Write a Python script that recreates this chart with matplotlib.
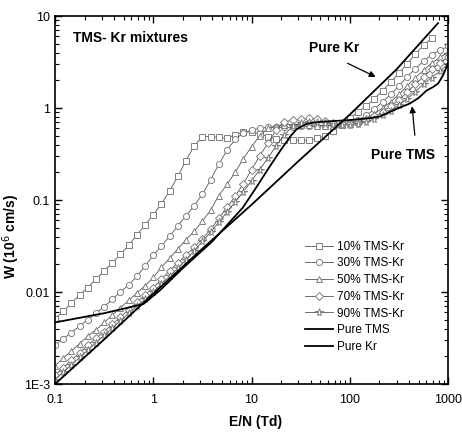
import matplotlib
matplotlib.use("Agg")
import matplotlib.pyplot as plt
from matplotlib.ticker import LogLocator, FixedLocator, NullFormatter

plt.rcParams['font.family'] = ['Liberation Sans', 'DejaVu Sans']

# E/N grid (Td) shared by the mixture curves
en = [0.1, 0.121, 0.147, 0.178, 0.215, 0.261, 0.316, 0.383, 0.464, 0.562, 0.681, 0.825,
      1.0, 1.21, 1.47, 1.78, 2.15, 2.61, 3.16, 3.83, 4.64, 5.62, 6.81, 8.25,
      10, 12.1, 14.7, 17.8, 21.5, 26.1, 31.6, 38.3, 46.4, 56.2, 68.1, 82.5,
      100, 121, 147, 178, 215, 261, 316, 383, 464, 562, 681, 825, 1000]

# drift velocity W (10^6 cm/s)
w_10 = [0.00513, 0.00617, 0.00759, 0.00933, 0.0112, 0.0138, 0.0170, 0.0209, 0.0257, 0.0324,
        0.0417, 0.0537, 0.0692, 0.0912, 0.126, 0.182, 0.269, 0.389, 0.490, 0.490,
        0.479, 0.468, 0.513, 0.550, 0.550, 0.525, 0.490, 0.457, 0.447, 0.447,
        0.447, 0.447, 0.468, 0.501, 0.562, 0.661, 0.776, 0.912, 1.047, 1.26,
        1.55, 1.91, 2.40, 3.02, 3.89, 4.79, 5.75]
w_30 = [0.00263, 0.00309, 0.00363, 0.00427, 0.00501, 0.00589, 0.00692, 0.00832, 0.0100, 0.0120,
        0.0148, 0.0191, 0.0251, 0.0316, 0.0407, 0.0525, 0.0676, 0.0871, 0.115, 0.166,
        0.245, 0.347, 0.457, 0.537, 0.575, 0.603, 0.617, 0.617, 0.617, 0.617,
        0.631, 0.631, 0.631, 0.646, 0.661, 0.676, 0.692, 0.741, 0.832, 0.977,
        1.17, 1.41, 1.74, 2.19, 2.69, 3.24, 3.80, 4.27, 4.68]
w_50 = [0.00158, 0.00191, 0.00229, 0.00275, 0.00331, 0.00389, 0.00468, 0.00562, 0.00676, 0.00813,
        0.00977, 0.0117, 0.0145, 0.0186, 0.0234, 0.0295, 0.0372, 0.0457, 0.0589, 0.0776,
        0.112, 0.148, 0.200, 0.282, 0.380, 0.501, 0.603, 0.646, 0.661, 0.661,
        0.661, 0.661, 0.646, 0.646, 0.646, 0.661, 0.676, 0.708, 0.776, 0.871,
        1.00, 1.17, 1.41, 1.74, 2.14, 2.57, 3.09, 3.55, 4.07]
w_70 = [0.00126, 0.00151, 0.00182, 0.00219, 0.00263, 0.00316, 0.00372, 0.00447, 0.00537, 0.00646,
        0.00776, 0.00933, 0.0112, 0.0138, 0.0170, 0.0209, 0.0251, 0.0309, 0.0380, 0.0479,
        0.0631, 0.0832, 0.110, 0.151, 0.214, 0.302, 0.417, 0.575, 0.708, 0.741,
        0.759, 0.776, 0.759, 0.724, 0.692, 0.676, 0.676, 0.692, 0.741, 0.813,
        0.912, 1.05, 1.23, 1.48, 1.82, 2.19, 2.63, 3.09, 3.55]
w_90 = [0.00112, 0.00135, 0.00162, 0.00195, 0.00234, 0.00282, 0.00339, 0.00407, 0.00490, 0.00589,
        0.00708, 0.00832, 0.0100, 0.0123, 0.0148, 0.0182, 0.0224, 0.0282, 0.0355, 0.0447,
        0.0575, 0.0741, 0.0955, 0.123, 0.162, 0.214, 0.288, 0.389, 0.513, 0.631,
        0.692, 0.708, 0.708, 0.692, 0.676, 0.661, 0.661, 0.676, 0.708, 0.759,
        0.832, 0.933, 1.07, 1.26, 1.51, 1.82, 2.14, 2.51, 3.02]

en_tms = [0.1, 0.316, 0.794, 1.175, 2.0, 3.98, 8.18, 11.2, 15.4, 20, 25.1, 28.8, 36.3,
          50.1, 100, 158, 204, 282, 407, 501, 603, 708, 794, 891, 1000]
w_tms = [0.00468, 0.00589, 0.00741, 0.0105, 0.0182, 0.0355, 0.0832, 0.138, 0.234, 0.355,
         0.501, 0.589, 0.676, 0.708, 0.741, 0.776, 0.813, 0.955, 1.12, 1.29, 1.55, 1.70,
         1.86, 2.29, 3.09]

en_kr = [0.1, 0.3, 1, 3, 10, 30, 100, 300, 790]
w_kr = [0.001, 0.0029, 0.0096, 0.0282, 0.089, 0.265, 0.85, 2.65, 8.39]

mixtures = [("10% TMS-Kr", w_10, "s"), ("30% TMS-Kr", w_30, "o"), ("50% TMS-Kr", w_50, "^"),
            ("70% TMS-Kr", w_70, "D"), ("90% TMS-Kr", w_90, "*")]

fig = plt.figure(figsize=(4.62, 4.34), dpi=100)
ax = fig.add_axes([0.119, 0.115, 0.851, 0.848])

for label, w, m in mixtures:
    ms = 4.4
    if m == "*":
        ms = 5.8
    if m == "D":
        ms = 3.7
    ax.plot(en[:len(w)], w, color="#555555", lw=0.6, marker=m, markersize=ms,
            markerfacecolor="white", markeredgecolor="#808080", markeredgewidth=0.7,
            label=label)

ax.plot(en_tms, w_tms, color="black", lw=1.3, label="Pure TMS")
ax.plot(en_kr, w_kr, color="black", lw=1.3, label="Pure Kr")

ax.set_xscale("log")
ax.set_yscale("log")
ax.set_xlim(0.1, 1000)
ax.set_ylim(1e-3, 10)

ax.xaxis.set_major_locator(FixedLocator([0.1, 1, 10, 100, 1000]))
ax.set_xticklabels(["0.1", "1", "10", "100", "1000"])
ax.yaxis.set_major_locator(FixedLocator([1e-3, 0.01, 0.1, 1, 10]))
ax.set_yticklabels(["1E-3", "0.01", "0.1", "1", "10"])
ax.xaxis.set_minor_locator(LogLocator(base=10, subs=range(2, 10)))
ax.yaxis.set_minor_locator(LogLocator(base=10, subs=range(2, 10)))
ax.xaxis.set_minor_formatter(NullFormatter())
ax.yaxis.set_minor_formatter(NullFormatter())
ax.tick_params(which="both", direction="in", top=True, right=True, labelsize=9)
ax.tick_params(which="major", length=5, width=1)
ax.tick_params(axis="x", which="major", pad=7)
ax.tick_params(which="minor", length=3, width=0.8)
for s in ax.spines.values():
    s.set_linewidth(1.2)

ax.set_xlabel("E/N (Td)", fontsize=10, fontweight="bold")
ax.set_ylabel("W (10$^6$ cm/s)", fontsize=10, fontweight="bold")
ax.xaxis.set_label_coords(0.51, -0.085)
ax.yaxis.set_label_coords(-0.085, 0.40)

ax.text(0.046, 0.94, "TMS- Kr mixtures", transform=ax.transAxes, fontsize=10,
        fontweight="bold", va="center", ha="left")

ax.annotate("", xy=(194, 2.12), xytext=(89.5, 3.16),
            arrowprops=dict(arrowstyle="-|>", color="black", lw=0.9, mutation_scale=9))
ax.text(69, 4.49, "Pure Kr", fontsize=10, fontweight="bold", ha="center", va="center")
ax.annotate("", xy=(427, 1.12), xytext=(461, 0.472),
            arrowprops=dict(arrowstyle="-|>", color="black", lw=0.9, mutation_scale=9))
ax.text(348, 0.308, "Pure TMS", fontsize=10, fontweight="bold", ha="center", va="center")

ax.legend(loc="upper left", bbox_to_anchor=(0.615, 0.412), frameon=False, fontsize=8.5,
          handlelength=2.4, handletextpad=0.3, labelspacing=0.40, borderpad=0.2)

fig.savefig("out.png", dpi=100)
